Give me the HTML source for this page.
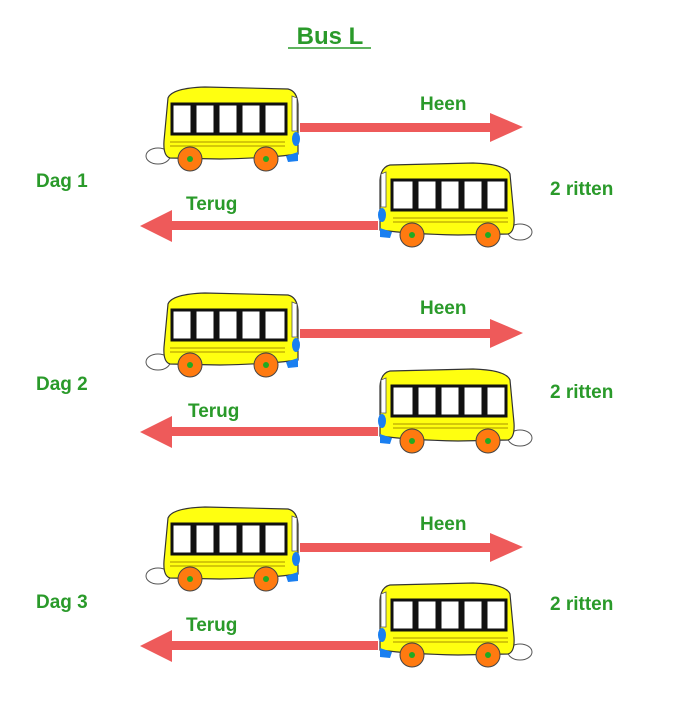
<!DOCTYPE html>
<html><head><meta charset="utf-8"><style>
html,body{margin:0;padding:0;background:#fff;width:688px;height:706px;overflow:hidden}
text{font-family:"Liberation Sans",sans-serif;fill:#2a9a2a;font-weight:bold}
</style></head><body>
<svg width="688" height="706" viewBox="0 0 688 706">
<defs>
<g id="bus">
  <ellipse cx="-2" cy="70" rx="12" ry="8" fill="#fff" stroke="#555" stroke-width="1"/>
  <path d="M8,12 Q12,2 45,1 L128,3 Q137,5 138,18 L138,68 Q110,72 60,73 L10,72 Q3,70 4,55 Z" fill="#ffff10" stroke="#333" stroke-width="1.2"/>
  <rect x="12" y="18" width="20" height="30" fill="#fff" stroke="#111" stroke-width="3"/>
  <rect x="35" y="18" width="20" height="30" fill="#fff" stroke="#111" stroke-width="3"/>
  <rect x="58" y="18" width="20" height="30" fill="#fff" stroke="#111" stroke-width="3"/>
  <rect x="81" y="18" width="20" height="30" fill="#fff" stroke="#111" stroke-width="3"/>
  <rect x="104" y="18" width="22" height="30" fill="#fff" stroke="#111" stroke-width="3"/>
  <path d="M132,10 L137,12 L137,45 L132,45 Z" fill="#fff" stroke="#555" stroke-width="0.8"/>
  <line x1="10" y1="56" x2="125" y2="56" stroke="#a89000" stroke-width="1"/>
  <line x1="10" y1="60" x2="125" y2="60" stroke="#a89000" stroke-width="1"/>
  <ellipse cx="136" cy="53" rx="4" ry="7" fill="#1a7ff0"/>
  <path d="M126,70 L138,66 L138,75 L128,76 Z" fill="#1a7ff0"/>
  <circle cx="30" cy="73" r="12" fill="#ff7a10" stroke="#444" stroke-width="1"/>
  <circle cx="30" cy="73" r="3" fill="#22aa22"/>
  <circle cx="106" cy="73" r="12" fill="#ff7a10" stroke="#444" stroke-width="1"/>
  <circle cx="106" cy="73" r="3" fill="#22aa22"/>
</g>
<g id="row">
  <use href="#bus" transform="translate(160,86)"/>
  <rect x="300" y="123" width="195" height="9" fill="#ee5a5a"/>
  <polygon points="490,113 523,127 490,142" fill="#ee5a5a"/>
  <use href="#bus" transform="translate(518,162) scale(-1,1)"/>
  <rect x="168" y="221" width="210" height="9" fill="#ee5a5a"/>
  <polygon points="172,210 140,226 172,242" fill="#ee5a5a"/>
</g>
</defs>
<text x="330" y="44" font-size="24" text-anchor="middle">Bus L</text>
<line x1="288" y1="48" x2="371" y2="48" stroke="#2a9a2a" stroke-width="1.5"/>

<g>
  <use href="#row"/>
  <text x="36" y="187" font-size="19">Dag 1</text>
  <text x="420" y="110" font-size="19">Heen</text>
  <text x="186" y="210" font-size="19">Terug</text>
  <text x="550" y="195" font-size="19">2 ritten</text>
</g>
<g transform="translate(0,206)">
  <use href="#row"/>
  <text x="36" y="184" font-size="19">Dag 2</text>
  <text x="420" y="108" font-size="19">Heen</text>
  <text x="188" y="211" font-size="19">Terug</text>
  <text x="550" y="192" font-size="19">2 ritten</text>
</g>
<g transform="translate(0,420)">
  <use href="#row"/>
  <text x="36" y="188" font-size="19">Dag 3</text>
  <text x="420" y="110" font-size="19">Heen</text>
  <text x="186" y="211" font-size="19">Terug</text>
  <text x="550" y="190" font-size="19">2 ritten</text>
</g>
</svg>
</body></html>
